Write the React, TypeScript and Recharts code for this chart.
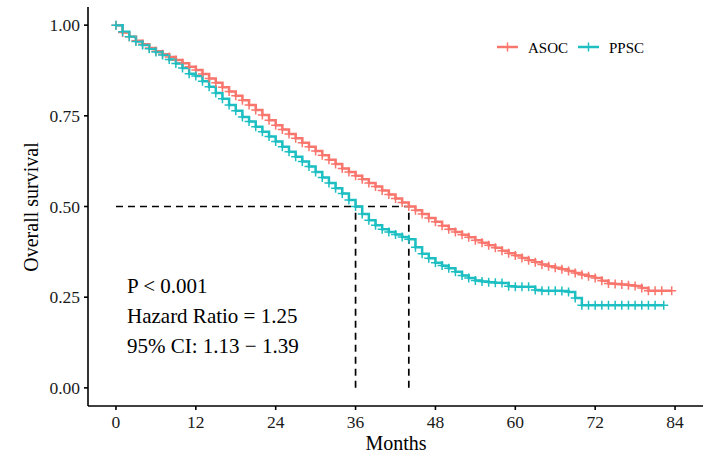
import { ComposedChart, Line, XAxis, YAxis, ReferenceLine } from 'recharts';

// Kaplan-Meier estimates: [month, survival]
const asoc: [number, number][] = [
  [0, 1.0], [1, 0.98], [2, 0.968], [3, 0.957], [4, 0.947], [5, 0.937], [6, 0.928], [7, 0.92],
  [8, 0.912], [9, 0.904], [10, 0.895], [11, 0.885], [12, 0.876], [13, 0.865], [14, 0.853],
  [15, 0.841], [16, 0.829], [17, 0.817], [18, 0.805], [19, 0.793], [20, 0.78], [21, 0.766],
  [22, 0.752], [23, 0.738], [24, 0.724], [25, 0.712], [26, 0.7], [27, 0.688], [28, 0.676],
  [29, 0.665], [30, 0.653], [31, 0.641], [32, 0.629], [33, 0.617], [34, 0.605], [35, 0.595],
  [36, 0.585], [37, 0.575], [38, 0.565], [39, 0.555], [40, 0.544], [41, 0.533], [42, 0.522],
  [43, 0.511], [44, 0.5], [45, 0.49], [46, 0.479], [47, 0.468], [48, 0.458], [49, 0.447],
  [50, 0.437], [51, 0.43], [52, 0.422], [53, 0.415], [54, 0.407], [55, 0.4], [56, 0.393],
  [57, 0.386], [58, 0.378], [59, 0.371], [60, 0.365], [61, 0.358], [62, 0.352], [63, 0.346],
  [64, 0.34], [65, 0.335], [66, 0.331], [67, 0.327], [68, 0.322], [69, 0.317], [70, 0.312],
  [71, 0.308], [72, 0.303], [73, 0.295], [74, 0.288], [75, 0.286], [76, 0.285], [77, 0.283],
  [78, 0.281], [79, 0.275], [80, 0.268], [81, 0.268], [82, 0.268], [83.5, 0.268],
];

const ppsc: [number, number][] = [
  [0, 1.0], [1, 0.982], [2, 0.968], [3, 0.955], [4, 0.945], [5, 0.935], [6, 0.926], [7, 0.918],
  [8, 0.905], [9, 0.894], [10, 0.882], [11, 0.866], [12, 0.86], [13, 0.845], [14, 0.83],
  [15, 0.813], [16, 0.797], [17, 0.78], [18, 0.764], [19, 0.747], [20, 0.734], [21, 0.72],
  [22, 0.706], [23, 0.693], [24, 0.679], [25, 0.665], [26, 0.651], [27, 0.637], [28, 0.624],
  [29, 0.61], [30, 0.595], [31, 0.58], [32, 0.565], [33, 0.55], [34, 0.536], [35, 0.518],
  [36, 0.5], [37, 0.479], [38, 0.462], [39, 0.448], [40, 0.437], [41, 0.43], [42, 0.423],
  [43, 0.416], [44, 0.41], [45, 0.388], [46, 0.37], [47, 0.357], [48, 0.345], [49, 0.337],
  [50, 0.33], [51, 0.32], [52, 0.31], [53, 0.303], [54, 0.296], [55, 0.293], [56, 0.291],
  [57, 0.29], [58, 0.289], [59, 0.28], [60, 0.279], [61, 0.279], [62, 0.279], [63, 0.27],
  [64, 0.268], [65, 0.268], [66, 0.268], [67, 0.267], [68, 0.264], [69, 0.248], [70, 0.228],
  [71, 0.228], [72, 0.228], [73, 0.228], [74, 0.228], [75, 0.228], [76, 0.228], [77, 0.228],
  [78, 0.228], [79, 0.228], [80, 0.228], [81, 0.228], [82.3, 0.228],
];

const medianAsoc = 44;
const medianPpsc = 36;

const xTicks = [0, 12, 24, 36, 48, 60, 72, 84];
const yTicks = [0, 0.25, 0.5, 0.75, 1];

const RED = '#F8766D';
const TEAL = '#1DBFC2';
const FONT = "'Liberation Serif', 'Times New Roman', serif";

const asocData = asoc.map(([month, s]) => ({ month, s }));
const ppscData = ppsc.map(([month, s]) => ({ month, s }));

const censorMark = (color: string) => (props: any) => {
  const { cx, cy, index } = props;
  if (cx == null || cy == null) return <g key={`${color}-${index}`} />;
  return (
    <path
      key={`${color}-${index}`}
      d={`M${cx - 4.5},${cy}H${cx + 4.5}M${cx},${cy - 4.5}V${cy + 4.5}`}
      stroke={color}
      strokeWidth={1.5}
      fill="none"
    />
  );
};

const tickStyle = { fontSize: 17.5, fill: '#1a1a1a', fontFamily: FONT };
const axisStroke = { stroke: '#000', strokeWidth: 1.6 };
const dash = { stroke: '#000', strokeWidth: 1.7, strokeDasharray: '7 5' };

export default function App() {
  return (
    <div style={{ position: 'absolute', left: 0, top: 0, width: 713, height: 457, background: '#fff' }}>
      <ComposedChart width={713} height={457} margin={{ top: 7, right: 10, bottom: 0, left: 0 }}>
        <XAxis
          type="number"
          dataKey="month"
          domain={[-4.2, 88.2]}
          ticks={xTicks}
          height={51}
          tickSize={4}
          tickMargin={6}
          tick={tickStyle}
          axisLine={axisStroke}
          tickLine={axisStroke}
          allowDataOverflow
        />
        <YAxis
          type="number"
          domain={[-0.05, 1.05]}
          ticks={yTicks}
          width={88}
          tickSize={4}
          tickMargin={4}
          tick={tickStyle}
          tickFormatter={(v: number) => v.toFixed(2)}
          axisLine={axisStroke}
          tickLine={axisStroke}
          allowDataOverflow
        />
        <ReferenceLine segment={[{ x: 0, y: 0.5 }, { x: medianAsoc, y: 0.5 }]} {...dash} />
        <ReferenceLine segment={[{ x: medianPpsc, y: 0 }, { x: medianPpsc, y: 0.5 }]} {...dash} />
        <ReferenceLine segment={[{ x: medianAsoc, y: 0 }, { x: medianAsoc, y: 0.5 }]} {...dash} />
        <Line
          data={asocData}
          dataKey="s"
          name="ASOC"
          type="stepAfter"
          stroke={RED}
          strokeWidth={2.5}
          dot={censorMark(RED)}
          activeDot={false}
          isAnimationActive={false}
        />
        <Line
          data={ppscData}
          dataKey="s"
          name="PPSC"
          type="stepAfter"
          stroke={TEAL}
          strokeWidth={2.5}
          dot={censorMark(TEAL)}
          activeDot={false}
          isAnimationActive={false}
        />
      </ComposedChart>

      <svg
        width={713}
        height={457}
        style={{ position: 'absolute', left: 0, top: 0, pointerEvents: 'none' }}
        fontFamily={FONT}
      >
        {/* legend */}
        <line x1={497} x2={518} y1={47} y2={47} stroke={RED} strokeWidth={2.5} />
        <line x1={507.5} x2={507.5} y1={42.5} y2={51.5} stroke={RED} strokeWidth={1.5} />
        <text x={528} y={52.5} fontSize={15} fill="#000">ASOC</text>
        <line x1={578} x2={599} y1={47} y2={47} stroke={TEAL} strokeWidth={2.5} />
        <line x1={588.5} x2={588.5} y1={42.5} y2={51.5} stroke={TEAL} strokeWidth={1.5} />
        <text x={609} y={52.5} fontSize={15} fill="#000">PPSC</text>

        {/* test statistics */}
        <text x={127} y={293} fontSize={21} fill="#000">P &lt; 0.001</text>
        <text x={127} y={323} fontSize={21} fill="#000">Hazard Ratio = 1.25</text>
        <text x={127} y={353} fontSize={21} fill="#000">95% CI: 1.13 − 1.39</text>

        {/* axis titles */}
        <text x={396} y={450} fontSize={20} textAnchor="middle" fill="#000">Months</text>
        <text
          x={0}
          y={0}
          fontSize={20}
          textAnchor="middle"
          fill="#000"
          transform="translate(37.5,207) rotate(-90)"
        >
          Overall survival
        </text>
      </svg>
    </div>
  );
}
